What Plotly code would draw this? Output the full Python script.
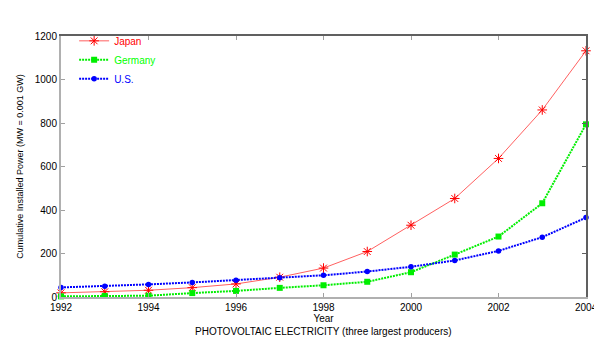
import plotly.graph_objects as go

years = list(range(1992, 2005))
japan = [19, 24, 31, 43, 60, 91, 133, 209, 330, 453, 637, 860, 1132]
germany = [3, 5, 6, 18, 28, 42, 54, 70, 114, 195, 278, 431, 794]
us = [44, 50, 58, 67, 77, 89, 100, 117, 139, 168, 212, 275, 365]

x_ticks = [1992, 1994, 1996, 1998, 2000, 2002, 2004]
y_ticks = [0, 200, 400, 600, 800, 1000, 1200]

font = dict(family="Liberation Sans, Arial, sans-serif", size=10, color="#000000")

fig = go.Figure()
fig.add_trace(go.Scatter(x=years, y=japan, name='<span style="color:#ff0000">Japan</span>',
                         mode="lines+markers", cliponaxis=False,
                         line=dict(color="#ff6060", width=1),
                         marker=dict(symbol="asterisk-open", size=8, color="#ff0000",
                                     line=dict(color="#ff4040", width=1))))
fig.add_trace(go.Scatter(x=years, y=germany, name='<span style="color:#00ff00">Germany</span>',
                         mode="lines+markers", cliponaxis=False,
                         line=dict(color="#00ee00", width=2, dash="2px,1px"),
                         marker=dict(symbol="square", size=6, color="#00ee00")))
fig.add_trace(go.Scatter(x=years, y=us, name='<span style="color:#0000ff">U.S.</span>',
                         mode="lines+markers", cliponaxis=False,
                         line=dict(color="#0000ff", width=2, dash="2px,1px"),
                         marker=dict(symbol="circle", size=5.5, color="#0000ff")))

# top / right frame lines drawn by overlay axes
fig.add_trace(go.Scatter(x=[years[0]], y=[us[0]], xaxis="x2", yaxis="y2",
                         mode="markers", marker=dict(opacity=0), showlegend=False,
                         hoverinfo="skip"))

# the page body adds an 8px offset, so the figure is 8px smaller on each side
fig.update_layout(
    width=594, height=340,
    margin=dict(l=53, r=16, t=28, b=51, autoexpand=False),
    paper_bgcolor="white", plot_bgcolor="white",
    font=font,
    showlegend=True,
    legend=dict(x=0.025, y=1.037, xanchor="left", yanchor="top",
                bgcolor="rgba(0,0,0,0)", font=dict(size=10), tracegroupgap=0),
    xaxis=dict(range=[1992, 2004], tickvals=x_ticks, showgrid=False, zeroline=False,
               ticks="inside", ticklen=4, tickcolor="#a0a0a0", automargin=False,
               showline=True, linecolor="#b0b0b0", linewidth=2,
               title=dict(text="Year", standoff=3, font=dict(size=10))),
    yaxis=dict(range=[0, 1200], tickvals=y_ticks, showgrid=False, zeroline=False,
               ticks="inside", ticklen=4, tickcolor="#a0a0a0", automargin=False,
               showline=True, linecolor="#b0b0b0", linewidth=2,
               title=dict(text="Cumulative Installed Power (MW = 0.001 GW)", standoff=10,
                          font=dict(size=9))),
    xaxis2=dict(range=[1992, 2004], tickvals=x_ticks, overlaying="x", side="top",
                showticklabels=False, showgrid=False, zeroline=False,
                ticks="inside", ticklen=4, tickcolor="#a0a0a0",
                showline=True, linecolor="#606060", linewidth=2),
    yaxis2=dict(range=[0, 1200], tickvals=y_ticks, overlaying="y", side="right",
                showticklabels=False, showgrid=False, zeroline=False,
                ticks="inside", ticklen=4, tickcolor="#606060",
                showline=True, linecolor="#606060", linewidth=2),
    annotations=[dict(text="PHOTOVOLTAIC ELECTRICITY (three largest producers)",
                      xref="paper", yref="paper", x=0.5, y=-0.134,
                      xanchor="center", yanchor="middle", showarrow=False,
                      font=dict(size=10))],
)

fig.write_html("out.html")
